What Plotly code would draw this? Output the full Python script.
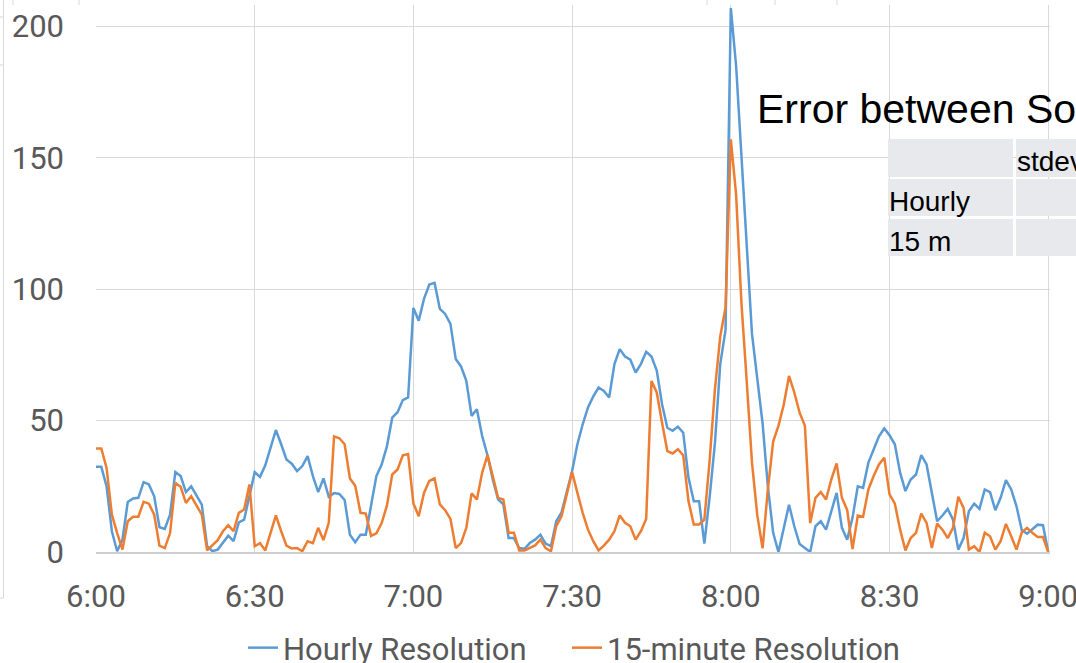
import pandas as pd
import plotly.graph_objects as go

# One sample per minute, 6:00 through 9:00
start_time = "2000-01-01 06:00"
n_samples = 181

hourly_resolution = [
    32.4, 32.4, 25, 7.9, 0.3, 4.7, 19, 20.4, 20.6, 26.6,
    25.7, 21.2, 9.4, 8.8, 14.2, 30.4, 28.9, 22.8, 25, 21.6,
    18, 2.2, 0.3, 0.9, 3.4, 6.2, 4.1, 11.3, 12.3, 21,
    30.4, 28.6, 33, 39.7, 46.4, 41, 35.2, 33.6, 30.8, 32.7,
    36.5, 28.9, 22.8, 28, 21, 22.4, 22.1, 19.8, 6.6, 3.7,
    6.6, 6.6, 17.4, 28.9, 33.3, 40.3, 51.1, 53.2, 57.8, 58.8,
    92.9, 88, 96.3, 101.8, 102.4, 92.5, 90.6, 86.8, 73.4, 70.6,
    65.1, 51.8, 54.3, 44.1, 36.8, 27.6, 20, 18.1, 5.3, 5.3,
    1.5, 1.2, 3.4, 4.7, 6.6, 3.2, 2.2, 11.7, 15.1, 22.5,
    30.8, 41, 48.6, 55, 59.2, 62.6, 61.3, 58.8, 71.5, 77.2,
    74.4, 73.2, 68.3, 71.5, 76.2, 74.4, 69, 56.2, 47.3, 46.1,
    47.7, 45.4, 28.2, 19.3, 19.3, 3.2, 21, 41.5, 71.5, 84.5,
    207, 185, 150, 115, 83, 66, 49, 25, 7.3, 0,
    8.5, 18, 9.8, 3, 1.5, 0, 9.8, 11.7, 8.5, 15.5,
    22.5, 9.2, 4.7, 13, 25, 24.4, 34, 39, 44, 47,
    44.4, 41, 30.2, 23.2, 27.6, 29.5, 36.9, 33.3, 21.9, 11.7,
    13.9, 16.4, 12.3, 0.9, 5.3, 15.5, 18.4, 16.4, 23.8, 22.8,
    15.9, 20.6, 27.4, 23.8, 17.4, 8.3, 7, 8.8, 10.4, 10.2,
    0,
]

quarter_hour_resolution = [
    39.4, 39.4, 32, 14.2, 7.2, 0.9, 11.7, 13.4, 13.4, 19.1,
    18.4, 14.2, 2.4, 1.5, 7.2, 26.3, 24.8, 18.7, 21.2, 17.7,
    14.2, 0.6, 2.5, 4.5, 7.9, 10.2, 7.9, 14.9, 16.2, 25.7,
    2.2, 3.4, 0.6, 7.2, 13.9, 7.9, 2.4, 1.3, 1.5, 0.3,
    4.1, 3.4, 9.2, 4.5, 11.1, 44, 43.3, 41, 28, 25.2,
    14.9, 14.6, 6.1, 7.1, 11, 17.7, 29.5, 31.4, 36.8, 37.3,
    18.5, 13.6, 22.5, 27, 28, 18.1, 15.9, 12.6, 1.5, 3.4,
    9.2, 22.3, 20, 30.2, 36.9, 28.9, 20.6, 20, 7.3, 7.3,
    0.6, 0.6, 1.5, 2.5, 4.7, 1.5, 0.3, 9.8, 13.6, 21.9,
    30.4, 22.5, 14.9, 8.5, 4.1, 0.6, 2.4, 4.7, 7.9, 13.9,
    11.1, 9.8, 4.7, 7.9, 12.6, 65.1, 60.7, 49.2, 38.4, 37.5,
    39.1, 36.8, 19.3, 10.5, 10.5, 12.3, 35, 62, 82, 93,
    157, 136, 95, 65, 34, 14, 1.4, 23.8, 42, 48,
    56, 67, 60.7, 53, 48, 11, 20.6, 22.8, 20, 27.6,
    33.7, 20.6, 15.9, 1.1, 13.9, 13.4, 23.8, 28.9, 33.3, 35.9,
    21.9, 18.4, 8.5, 0.6, 5.3, 7.3, 14.6, 11.1, 1.5, 10.8,
    8.5, 5.3, 9.2, 21, 16.8, 0.9, 2.2, 0, 7.3, 6,
    0.9, 4.1, 10.7, 6, 0.9, 7.5, 9.2, 7.3, 5.7, 5.7,
    0,
]

y_ticks = [0, 50, 100, 150, 200]
x_tick_labels = ["6:00", "6:30", "7:00", "7:30", "8:00", "8:30", "9:00"]
series_names = ["Hourly Resolution", "15-minute Resolution"]
series_colors = ["#5B9BD5", "#ED7D31"]

table_rows = ["", "Hourly", "15 m"]
table_header = "stdev"
overlay_title = "Error between So"

times = pd.date_range(start_time, periods=n_samples, freq="min")
x_tick_times = pd.date_range(start_time, periods=len(x_tick_labels), freq="30min")
# a short pad keeps the closing 9:00 grid line away from the plot edge
x_range = [times[0], times[-1] + pd.Timedelta(seconds=20)]

W, H = 1076, 663
M_L, M_R, M_T, M_B = 96, 26, 5, 111
PLOT_W = W - M_L - M_R
PLOT_H = H - M_T - M_B
PX_PER_UNIT = 2.628
Y_TOP = PLOT_H / PX_PER_UNIT


def px_x(px):
    return (px - M_L) / PLOT_W


def px_y(py):
    return (H - M_B - py) / PLOT_H


GRID = "#D9D9D9"
TICK_FONT = dict(family="Roboto, Open Sans, sans-serif", size=31, color="#595959")
BOX_FONT = "Liberation Sans, Arial, sans-serif"

# each series gets its own legend box so the two entries can be spaced freely
legend_ids = ["legend", "legend2"]
legend_left_px = [243, 567]

fig = go.Figure()
for name, values, color, lid in zip(series_names,
                                    [hourly_resolution, quarter_hour_resolution],
                                    series_colors, legend_ids):
    fig.add_trace(go.Scatter(
        x=times, y=values, name=name, mode="lines",
        line=dict(color=color, width=2.5), legend=lid,
    ))

shapes = []
# Grey cell blocks of the small stats table
col_edges = [(888, 1013), (1016, 1100)]
row_edges = [(139, 177), (179, 216), (219, 256)]
for (y0, y1) in row_edges:
    for (x0, x1) in col_edges:
        shapes.append(dict(
            type="rect", xref="paper", yref="paper", layer="above",
            x0=px_x(x0), x1=px_x(x1), y0=px_y(y1), y1=px_y(y0),
            fillcolor="#E8E9ED", line=dict(width=0),
        ))

# Sheet borders peeking around the chart frame
shapes.append(dict(type="line", xref="paper", yref="paper",
                   x0=px_x(3.5), x1=px_x(3.5), y0=px_y(0), y1=px_y(598),
                   line=dict(color=GRID, width=1)))
for py in (17, 65, 598):
    shapes.append(dict(type="line", xref="paper", yref="paper",
                       x0=px_x(0), x1=px_x(3.5), y0=px_y(py), y1=px_y(py),
                       line=dict(color=GRID, width=1)))
for px in (13, 79, 707, 775, 837):
    shapes.append(dict(type="line", xref="paper", yref="paper",
                       x0=px_x(px), x1=px_x(px), y0=px_y(0), y1=px_y(5),
                       line=dict(color=GRID, width=1)))

annotations = [
    dict(text=overlay_title, xref="paper", yref="paper",
         x=px_x(755), y=px_y(109), xanchor="left", yanchor="middle",
         showarrow=False, font=dict(family=BOX_FONT, size=41, color="#000000")),
    dict(text=table_header, xref="paper", yref="paper",
         x=px_x(1015), y=px_y(161), xanchor="left", yanchor="middle",
         showarrow=False, font=dict(family=BOX_FONT, size=28, color="#000000")),
]
for label, cy in zip(table_rows[1:], (201, 241)):
    annotations.append(dict(
        text=label, xref="paper", yref="paper",
        x=px_x(887), y=px_y(cy), xanchor="left", yanchor="middle",
        showarrow=False, font=dict(family=BOX_FONT, size=28, color="#000000"),
    ))

legend_layout = {}
for lid, left in zip(legend_ids, legend_left_px):
    legend_layout[lid] = dict(
        orientation="h", x=px_x(left), xanchor="left",
        y=px_y(648), yanchor="middle",
        font=TICK_FONT, bgcolor="rgba(0,0,0,0)",
    )

fig.update_layout(
    width=W, height=H,
    margin=dict(l=M_L, r=M_R, t=M_T, b=M_B, autoexpand=False),
    paper_bgcolor="white", plot_bgcolor="white",
    showlegend=True,
    shapes=shapes,
    annotations=annotations,
    xaxis=dict(
        type="date",
        range=x_range,
        tickmode="array", tickvals=x_tick_times, ticktext=x_tick_labels,
        showgrid=True, gridcolor=GRID, gridwidth=1,
        showline=True, linecolor="#CFCFCF", linewidth=1.5,
        ticks="", tickfont=TICK_FONT, ticklabelstandoff=16,
        ticklabeloverflow="allow",
        zeroline=False,
    ),
    yaxis=dict(
        range=[0, Y_TOP],
        tickvals=y_ticks,
        showgrid=True, gridcolor=GRID, gridwidth=1,
        showline=False, zeroline=False,
        ticks="", tickfont=TICK_FONT, ticklabelstandoff=31,
    ),
    **legend_layout,
)

fig.write_html("out.html")
